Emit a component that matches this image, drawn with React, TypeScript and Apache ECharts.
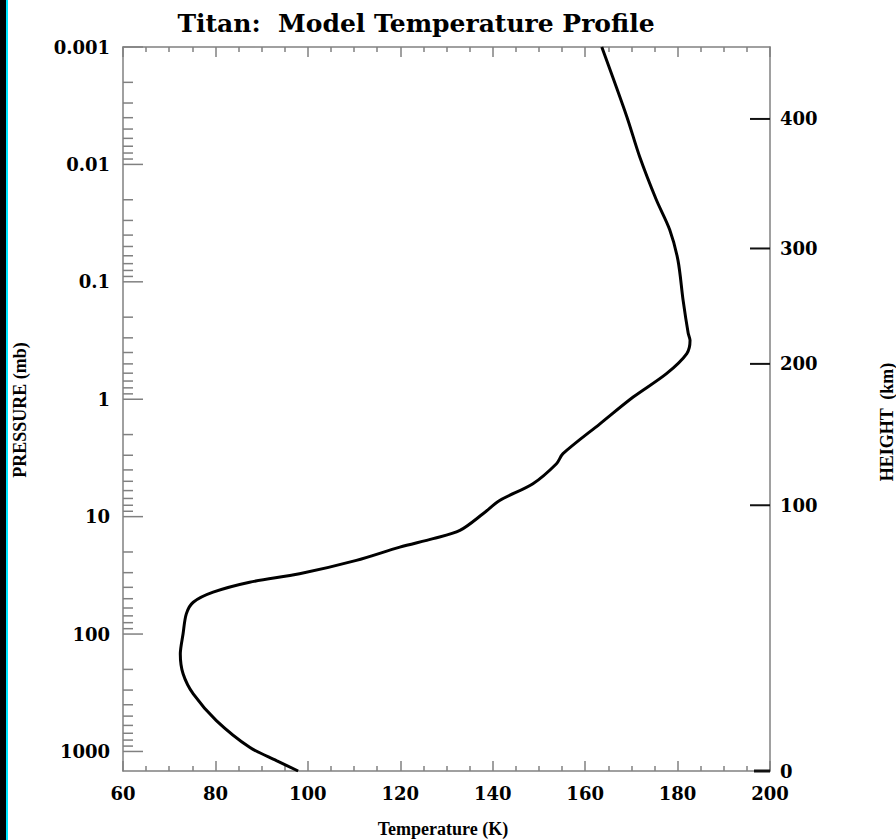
import React, { useEffect, useRef } from "react";
import * as echarts from "echarts";

// Temperature profile (K) vs pressure (mb)
const temperatureK = [163.6, 169.0, 171.8, 175.4, 178.3, 180.1, 181.2, 182.3, 182.7, 182.0, 177.6, 170.4, 163.2, 155.2, 153.8, 148.7, 141.5, 137.9, 132.9, 127.1, 119.9, 110.5, 98.2, 87.4, 79.5, 75.2, 73.7, 73.0, 72.4, 73.0, 75.2, 80.2, 87.4, 93.2, 97.9];
const pressureMb = [0.001, 0.0039, 0.0086, 0.02, 0.036, 0.066, 0.144, 0.274, 0.315, 0.408, 0.605, 0.958, 1.62, 2.91, 3.54, 5.24, 7.28, 9.45, 13.1, 15.4, 18.2, 23.6, 30.7, 36.2, 44.0, 53.6, 67.3, 99.6, 148, 218, 324, 546, 922, 1197, 1467];

// Pressure axis decade labels
const pressureTicks = [0.001, 0.01, 0.1, 1, 10, 100, 1000];
const pressureTickLabels = ["0.001", "0.01", "0.1", "1", "10", "100", "1000"];

// Height axis (km) and corresponding pressure level (mb)
const heightKm = [0, 100, 200, 300, 400];
const heightPressure = [1467, 8.0, 0.5, 0.052, 0.0041];

const P_MIN = 0.001;
const P_MAX = 1467;
const T_MIN = 60;
const T_MAX = 200;

const FONT = '"DejaVu Serif", "Liberation Serif", serif';
const NAME_FONT = '"Liberation Serif", "DejaVu Serif", serif';
const GRAY = "#808080";

export default function App() {
  const ref = useRef<HTMLDivElement>(null);
  useEffect(() => {
    if (!ref.current) return;
    const chart = echarts.init(ref.current, null, { renderer: "svg" });

    // minor ticks on the log pressure axis (2..9 within each decade)
    const minorTicks: number[][] = [];
    for (let k = -3; k <= 3; k++) {
      for (let m = 2; m <= 9; m++) {
        const v = m * Math.pow(10, k);
        if (v < P_MAX) minorTicks.push([T_MIN, v, 10]);
      }
    }
    const majorTicks = pressureTicks.map((p) => [T_MIN, p, 20]);
    const leftTicks = majorTicks.concat(minorTicks);
    const rightTicks = heightKm.map((h, i) => [T_MAX, heightPressure[i], h]);

    const labelMap: Record<string, string> = {};
    pressureTicks.forEach((p, i) => {
      labelMap[String(Math.round(Math.log10(p)))] = pressureTickLabels[i];
    });

    const nameStyle = (text: string, size: number) => ({
      text,
      font: `bold ${size}px ${NAME_FONT}`,
      fill: "#000",
      align: "center",
      verticalAlign: "middle",
      textAlign: "center",
      textVerticalAlign: "middle",
    });

    const option: any = {
      animation: false,
      backgroundColor: "#ffffff",
      grid: { left: 123, right: 126, top: 47, bottom: 69, containLabel: false },
      xAxis: [
        {
          type: "value",
          position: "bottom",
          min: T_MIN,
          max: T_MAX,
          interval: 20,
          axisLine: { show: true, lineStyle: { color: GRAY, width: 1.5 } },
          axisTick: { show: true, inside: true, length: 10, lineStyle: { color: GRAY, width: 1.5 } },
          minorTick: { show: true, splitNumber: 4, length: 5, lineStyle: { color: GRAY, width: 1.5 } },
          splitLine: { show: false },
          minorSplitLine: { show: false },
          axisLabel: { show: true, margin: 13, color: "#000", fontFamily: FONT, fontWeight: "bold", fontSize: 18 },
        },
        {
          type: "value",
          position: "top",
          min: T_MIN,
          max: T_MAX,
          interval: 20,
          axisLine: { show: true, lineStyle: { color: GRAY, width: 1.5 } },
          axisTick: { show: true, inside: true, length: 10, lineStyle: { color: GRAY, width: 1.5 } },
          minorTick: { show: true, splitNumber: 4, length: 5, lineStyle: { color: GRAY, width: 1.5 } },
          splitLine: { show: false },
          axisLabel: { show: false },
        },
      ],
      yAxis: [
        {
          type: "log",
          logBase: 10,
          position: "left",
          inverse: true,
          min: P_MIN,
          max: P_MAX,
          axisLine: { show: true, lineStyle: { color: GRAY, width: 1.5 } },
          axisTick: { show: false },
          splitLine: { show: false },
          axisLabel: {
            show: true,
            margin: 13,
            color: "#000",
            fontFamily: FONT,
            fontWeight: "bold",
            fontSize: 18,
            formatter: (v: number) => {
              const l = Math.log10(v);
              if (Math.abs(l - Math.round(l)) > 1e-6) return "";
              return labelMap[String(Math.round(l))] ?? "";
            },
          },
        },
        {
          type: "log",
          logBase: 10,
          position: "right",
          inverse: true,
          min: P_MIN,
          max: P_MAX,
          axisLine: { show: true, lineStyle: { color: GRAY, width: 1.5 } },
          axisTick: { show: false },
          splitLine: { show: false },
          axisLabel: { show: false },
        },
      ],
      series: [
        {
          type: "line",
          xAxisIndex: 0,
          yAxisIndex: 0,
          data: temperatureK.map((t, i) => [t, pressureMb[i]]),
          showSymbol: false,
          smooth: 0.3,
          lineStyle: { color: "#000", width: 3 },
          clip: true,
          z: 5,
        },
        {
          type: "custom",
          xAxisIndex: 0,
          yAxisIndex: 0,
          clip: false,
          data: leftTicks,
          renderItem: (params: any, api: any) => {
            const pt = api.coord([api.value(0), api.value(1)]);
            const len = api.value(2);
            return {
              type: "line",
              shape: { x1: pt[0], y1: pt[1], x2: pt[0] + len, y2: pt[1] },
              style: { stroke: GRAY, lineWidth: 1.5 },
            };
          },
          z: 3,
        },
        {
          type: "custom",
          xAxisIndex: 0,
          yAxisIndex: 0,
          clip: false,
          data: rightTicks,
          renderItem: (params: any, api: any) => {
            const pt = api.coord([api.value(0), api.value(1)]);
            const h = api.value(2);
            return {
              type: "group",
              children: [
                {
                  type: "line",
                  shape: { x1: pt[0] - (h === 0 ? 16 : 20), y1: pt[1], x2: pt[0], y2: pt[1] },
                  style: { stroke: "#111", lineWidth: h === 0 ? 3 : 2 },
                },
                {
                  type: "text",
                  x: pt[0] + 10,
                  y: pt[1],
                  style: {
                    text: String(h),
                    fill: "#000",
                    font: `bold 18px ${FONT}`,
                    align: "left",
                    verticalAlign: "middle",
                    textAlign: "left",
                    textVerticalAlign: "middle",
                  },
                },
              ],
            };
          },
          z: 4,
        },
      ],
      graphic: [
        { type: "rect", left: 0, top: 0, shape: { width: 6, height: 840 }, style: { fill: "#000" } },
        { type: "rect", left: 6, top: 0, shape: { width: 2, height: 840 }, style: { fill: "#00e5ff" } },
        {
          type: "text",
          x: 416,
          y: 23,
          style: {
            text: "Titan:  Model Temperature Profile",
            font: `bold 25px ${FONT}`,
            fill: "#000",
            align: "center",
            verticalAlign: "middle",
            textAlign: "center",
            textVerticalAlign: "middle",
          },
        },
        { type: "text", x: 443, y: 829, style: nameStyle("Temperature (K)", 18) },
        { type: "text", x: 20, y: 410, rotation: Math.PI / 2, style: nameStyle("PRESSURE (mb)", 18) },
        { type: "text", x: 887, y: 422, rotation: Math.PI / 2, style: nameStyle("HEIGHT  (km)", 18) },
      ],
    };
    chart.setOption(option);
    return () => chart.dispose();
  }, []);
  return (
    <div
      ref={ref}
      style={{ position: "fixed", left: 0, top: 0, width: 896, height: 840, background: "#fff" }}
    />
  );
}
